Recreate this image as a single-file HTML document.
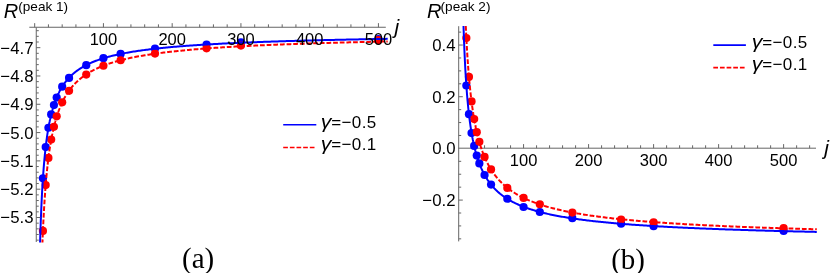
<!DOCTYPE html>
<html><head><meta charset="utf-8"><title>plot</title>
<style>html,body{margin:0;padding:0;background:#fff;}svg{display:block;will-change:transform;font-family:"Liberation Sans",sans-serif;}</style>
</head><body>
<svg width="830" height="273" viewBox="0 0 830 273">
<rect width="830" height="273" fill="#ffffff"/>
<circle cx="42.93" cy="178.35" r="4.1" fill="#0000ff"/><circle cx="45.68" cy="147.05" r="4.1" fill="#0000ff"/><circle cx="48.43" cy="127.76" r="4.1" fill="#0000ff"/><circle cx="51.18" cy="114.40" r="4.1" fill="#0000ff"/><circle cx="53.93" cy="105.05" r="4.1" fill="#0000ff"/><circle cx="56.68" cy="97.58" r="4.1" fill="#0000ff"/><circle cx="62.18" cy="86.71" r="4.1" fill="#0000ff"/><circle cx="69.06" cy="77.88" r="4.1" fill="#0000ff"/><circle cx="86.24" cy="65.19" r="4.1" fill="#0000ff"/><circle cx="103.43" cy="58.18" r="4.1" fill="#0000ff"/><circle cx="120.62" cy="53.93" r="4.1" fill="#0000ff"/><circle cx="154.99" cy="48.56" r="4.1" fill="#0000ff"/><circle cx="206.56" cy="44.48" r="4.1" fill="#0000ff"/><circle cx="240.93" cy="42.45" r="4.1" fill="#0000ff"/><circle cx="378.43" cy="39.20" r="4.1" fill="#0000ff"/><circle cx="42.93" cy="230.97" r="4.1" fill="#ff0000"/><circle cx="45.68" cy="185.07" r="4.1" fill="#ff0000"/><circle cx="48.43" cy="157.97" r="4.1" fill="#ff0000"/><circle cx="51.18" cy="139.61" r="4.1" fill="#ff0000"/><circle cx="53.93" cy="126.83" r="4.1" fill="#ff0000"/><circle cx="56.68" cy="116.35" r="4.1" fill="#ff0000"/><circle cx="62.18" cy="102.28" r="4.1" fill="#ff0000"/><circle cx="69.06" cy="90.83" r="4.1" fill="#ff0000"/><circle cx="86.24" cy="74.57" r="4.1" fill="#ff0000"/><circle cx="103.43" cy="65.75" r="4.1" fill="#ff0000"/><circle cx="120.62" cy="60.23" r="4.1" fill="#ff0000"/><circle cx="154.99" cy="53.56" r="4.1" fill="#ff0000"/><circle cx="206.56" cy="48.36" r="4.1" fill="#ff0000"/><circle cx="240.93" cy="45.60" r="4.1" fill="#ff0000"/><circle cx="378.43" cy="40.20" r="4.1" fill="#ff0000"/><clipPath id="ca"><rect x="30" y="26" width="357.7" height="216.6"/></clipPath><clipPath id="cb"><rect x="455" y="26" width="362" height="216.6"/></clipPath><path clip-path="url(#ca)" d="M38.12,349.55 L38.19,343.06 L38.27,336.87 L38.34,330.95 L38.42,325.29 L38.50,319.87 L38.57,314.68 L38.65,309.69 L38.72,304.90 L38.80,300.29 L38.88,295.86 L38.95,291.59 L39.03,287.48 L39.10,283.51 L39.18,279.68 L39.25,275.98 L39.33,272.40 L39.41,268.95 L39.48,265.60 L39.56,262.36 L39.63,259.22 L39.71,256.18 L39.78,253.23 L39.86,250.36 L39.94,247.58 L40.01,244.88 L40.09,242.25 L40.16,239.70 L40.24,237.22 L40.32,234.80 L40.39,232.45 L40.47,230.16 L40.54,227.93 L40.62,225.75 L40.69,223.63 L40.77,221.56 L40.85,219.54 L40.92,217.57 L41.00,215.65 L41.07,213.77 L41.15,211.94 L41.22,210.14 L41.30,208.39 L41.38,206.67 L41.45,205.00 L41.53,203.36 L41.60,201.75 L41.68,200.18 L41.75,198.64 L41.83,197.14 L41.91,195.66 L41.98,194.21 L42.06,192.79 L42.13,191.41 L42.21,190.04 L42.29,188.71 L42.36,187.40 L42.44,186.11 L42.51,184.85 L42.59,183.61 L42.66,182.39 L42.74,181.20 L42.82,180.03 L42.89,178.87 L42.97,177.74 L43.04,176.63 L43.12,175.54 L43.19,174.46 L43.27,173.41 L43.35,172.37 L43.42,171.35 L43.50,170.35 L43.57,169.36 L43.65,168.39 L43.72,167.43 L43.80,166.49 L43.88,165.56 L43.95,164.65 L44.03,163.75 L44.10,162.87 L44.18,162.00 L44.26,161.14 L44.33,160.29 L44.41,159.46 L44.48,158.64 L44.56,157.83 L44.63,157.04 L44.71,156.25 L44.79,155.48 L44.86,154.71 L44.94,153.96 L45.01,153.22 L45.09,152.49 L45.16,151.76 L45.24,151.05 L45.32,150.35 L45.39,149.66 L45.47,148.97 L45.54,148.30 L45.62,147.63 L45.70,146.97 L45.77,146.32 L45.85,145.68 L45.92,145.05 L46.00,144.43 L46.07,143.81 L46.15,143.20 L46.23,142.60 L46.30,142.00 L46.38,141.42 L46.45,140.84 L46.53,140.26 L46.60,139.70 L46.68,139.14 L46.76,138.58 L46.83,138.04 L46.91,137.50 L46.98,136.96 L47.06,136.44 L47.13,135.91 L47.21,135.40 L47.29,134.89 L47.36,134.38 L47.44,133.88 L47.51,133.39 L47.59,132.90 L47.67,132.42 L47.74,131.94 L47.82,131.47 L47.89,131.00 L47.97,130.54 L48.04,130.08 L48.12,129.63 L48.20,129.18 L48.27,128.74 L48.35,128.30 L48.42,127.87 L48.50,127.44 L48.57,127.01 L48.65,126.59 L48.73,126.17 L48.80,125.76 L48.88,125.35 L48.95,124.95 L49.03,124.55 L49.11,124.15 L49.18,123.76 L49.26,123.37 L49.33,122.98 L49.41,122.60 L49.48,122.22 L49.56,121.85 L49.64,121.48 L49.71,121.11 L49.79,120.74 L49.86,120.38 L49.94,120.03 L50.01,119.67 L50.09,119.32 L50.17,118.97 L50.24,118.63 L50.32,118.29 L50.39,117.95 L50.47,117.61 L50.54,117.28 L50.62,116.95 L50.70,116.62 L50.77,116.30 L50.85,115.98 L50.92,115.66 L51.00,115.34 L51.08,115.03 L51.15,114.72 L51.23,114.41 L51.30,114.11 L51.38,113.81 L51.45,113.51 L51.53,113.21 L51.61,112.91 L51.68,112.62 L51.76,112.33 L51.83,112.04 L51.91,111.76 L51.98,111.47 L52.06,111.19 L52.14,110.91 L52.21,110.64 L52.29,110.36 L52.36,110.09 L52.44,109.82 L52.52,109.55 L52.59,109.29 L52.67,109.02 L52.74,108.76 L52.82,108.50 L52.89,108.25 L52.97,107.99 L53.05,107.74 L53.12,107.48 L53.20,107.23 L53.27,106.99 L53.35,106.74 L53.42,106.50 L53.50,106.25 L53.58,106.01 L53.65,105.77 L53.73,105.54 L53.80,105.30 L53.88,105.07 L53.95,104.83 L54.03,104.60 L54.11,104.37 L54.18,104.15 L54.26,103.92 L54.33,103.70 L54.41,103.47 L54.49,103.25 L54.56,103.03 L54.64,102.82 L54.71,102.60 L54.79,102.39 L54.86,102.17 L54.94,101.96 L55.02,101.75 L55.09,101.54 L55.17,101.33 L55.24,101.13 L55.32,100.92 L55.39,100.72 L55.47,100.52 L55.55,100.32 L55.62,100.12 L55.70,99.92 L55.77,99.72 L55.85,99.53 L55.92,99.33 L56.00,99.14 L56.08,98.95 L56.15,98.76 L56.23,98.57 L56.30,98.38 L56.38,98.19 L56.46,98.01 L56.53,97.82 L56.61,97.64 L56.68,97.46 L56.76,97.28 L56.83,97.10 L56.91,96.92 L56.99,96.74 L57.06,96.56 L57.14,96.39 L57.21,96.21 L57.29,96.04 L57.36,95.87 L57.44,95.70 L57.52,95.53 L57.59,95.36 L57.67,95.19 L57.74,95.02 L57.82,94.85 L57.90,94.69 L57.97,94.53 L58.05,94.36 L58.12,94.20 L58.20,94.04 L58.27,93.88 L58.35,93.72 L58.43,93.56 L58.50,93.40 L58.58,93.25 L58.65,93.09 L58.73,92.94 L58.80,92.78 L58.88,92.63 L58.96,92.48 L59.03,92.32 L59.11,92.17 L59.18,92.02 L59.26,91.88 L59.33,91.73 L59.41,91.58 L59.49,91.43 L59.56,91.29 L59.64,91.14 L59.71,91.00 L59.79,90.86 L59.87,90.71 L59.94,90.57 L60.02,90.43 L60.09,90.29 L60.17,90.15 L60.24,90.01 L60.32,89.88 L60.40,89.74 L60.47,89.60 L60.55,89.47 L60.62,89.33 L60.70,89.20 L60.77,89.07 L60.85,88.93 L60.93,88.80 L61.00,88.67 L61.08,88.54 L61.15,88.41 L61.23,88.28 L61.31,88.15 L61.38,88.02 L61.46,87.90 L61.53,87.77 L61.61,87.64 L61.68,87.52 L61.76,87.39 L61.84,87.27 L61.91,87.14 L61.99,87.02 L62.06,86.90 L62.14,86.78 L62.21,86.66 L62.29,86.54 L62.37,86.42 L62.44,86.30 L62.52,86.18 L62.59,86.06 L62.67,85.94 L62.74,85.83 L62.82,85.71 L62.90,85.59 L62.97,85.48 L63.05,85.36 L63.12,85.25 L63.20,85.14 L63.28,85.02 L63.35,84.91 L63.43,84.80 L63.50,84.69 L63.58,84.58 L63.65,84.47 L63.73,84.36 L63.81,84.25 L63.88,84.14 L63.96,84.03 L64.03,83.92 L64.11,83.82 L64.18,83.71 L64.26,83.60 L64.34,83.50 L64.41,83.39 L64.49,83.29 L64.56,83.18 L64.64,83.08 L64.72,82.98 L64.79,82.87 L64.87,82.77 L64.94,82.67 L65.02,82.57 L65.09,82.47 L65.17,82.37 L65.25,82.27 L65.32,82.17 L65.40,82.07 L65.47,81.97 L65.55,81.87 L65.62,81.77 L65.70,81.67 L65.78,81.58 L65.85,81.48 L65.93,81.38 L66.00,81.29 L66.08,81.19 L66.15,81.10 L66.23,81.00 L66.31,80.91 L66.38,80.82 L66.46,80.72 L66.53,80.63 L66.61,80.54 L66.69,80.44 L66.76,80.35 L66.84,80.26 L66.91,80.17 L66.99,80.08 L67.06,79.99 L67.14,79.90 L67.22,79.81 L67.29,79.72 L67.37,79.63 L67.44,79.54 L67.52,79.46 L67.59,79.37 L67.67,79.28 L67.75,79.20 L67.82,79.11 L67.90,79.02 L67.97,78.94 L68.05,78.85 L68.13,78.77 L68.20,78.68 L68.28,78.60 L68.35,78.51 L68.43,78.43 L68.50,78.35 L68.58,78.26 L68.66,78.18 L68.73,78.10 L68.81,78.02 L68.88,77.94 L68.96,77.85 L69.03,77.77 L69.11,77.69 L69.19,77.61 L69.26,77.53 L69.34,77.45 L69.41,77.37 L69.49,77.29 L69.56,77.21 L69.64,77.14 L69.72,77.06 L69.79,76.98 L69.87,76.90 L69.94,76.83 L70.02,76.75 L70.10,76.67 L70.17,76.60 L70.25,76.52 L70.32,76.44 L70.40,76.37 L70.47,76.29 L70.55,76.22 L70.63,76.14 L70.70,76.07 L70.78,75.99 L70.85,75.92 L70.93,75.85 L71.00,75.77 L71.08,75.70 L71.16,75.63 L71.23,75.56 L71.31,75.48 L71.38,75.41 L71.46,75.34 L71.53,75.27 L71.61,75.20 L71.69,75.13 L71.76,75.06 L71.84,74.99 L71.91,74.92 L71.99,74.85 L72.07,74.78 L72.14,74.71 L72.22,74.64 L72.29,74.57 L72.37,74.50 L72.44,74.43 L72.52,74.36 L72.60,74.30 L72.67,74.23 L72.75,74.16 L72.82,74.10 L72.90,74.03 L72.97,73.96 L73.05,73.90 L73.13,73.83 L73.20,73.76 L73.28,73.70 L73.35,73.63 L73.43,73.57 L73.51,73.50 L73.58,73.44 L73.66,73.37 L73.73,73.31 L73.81,73.24 L73.88,73.18 L73.96,73.12 L74.04,73.05 L74.11,72.99 L74.19,72.93 L74.26,72.87 L74.34,72.80 L74.41,72.74 L74.49,72.68 L74.57,72.62 L74.64,72.55 L74.72,72.49 L74.79,72.43 L74.87,72.37 L74.94,72.31 L75.02,72.25 L75.10,72.19 L75.17,72.13 L75.25,72.07 L75.32,72.01 L75.40,71.95 L75.48,71.89 L75.55,71.83 L75.63,71.77 L75.70,71.71 L75.78,71.65 L75.85,71.60 L75.93,71.54 L77.18,70.60 L78.44,69.71 L79.69,68.87 L80.94,68.07 L82.20,67.31 L83.45,66.58 L84.70,65.88 L85.96,65.22 L87.21,64.58 L88.47,63.97 L89.72,63.39 L90.97,62.83 L92.23,62.29 L93.48,61.77 L94.73,61.27 L95.99,60.79 L97.24,60.33 L98.49,59.88 L99.75,59.45 L101.00,59.03 L102.25,58.63 L103.51,58.24 L104.76,57.86 L106.01,57.50 L107.27,57.14 L108.52,56.80 L109.77,56.47 L111.03,56.14 L112.28,55.83 L113.54,55.52 L114.79,55.23 L116.04,54.94 L117.30,54.66 L118.55,54.39 L119.80,54.12 L121.06,53.86 L122.31,53.61 L123.56,53.36 L124.82,53.12 L126.07,52.89 L127.32,52.66 L128.58,52.44 L129.83,52.22 L131.08,52.01 L132.34,51.80 L133.59,51.60 L134.85,51.40 L136.10,51.21 L137.35,51.02 L138.61,50.83 L139.86,50.65 L141.11,50.47 L142.37,50.30 L143.62,50.13 L144.87,49.96 L146.13,49.80 L147.38,49.64 L148.63,49.48 L149.89,49.33 L151.14,49.17 L152.39,49.03 L153.65,48.88 L154.90,48.74 L156.15,48.60 L157.41,48.46 L158.66,48.32 L159.92,48.19 L161.17,48.06 L162.42,47.93 L163.68,47.81 L164.93,47.68 L166.18,47.56 L167.44,47.44 L168.69,47.33 L169.94,47.21 L171.20,47.10 L172.45,46.98 L173.70,46.87 L174.96,46.77 L176.21,46.66 L177.46,46.55 L178.72,46.45 L179.97,46.35 L181.23,46.25 L182.48,46.15 L183.73,46.05 L184.99,45.96 L186.24,45.86 L187.49,45.77 L188.75,45.68 L190.00,45.59 L191.25,45.50 L192.51,45.41 L193.76,45.32 L195.01,45.24 L196.27,45.15 L197.52,45.07 L198.77,44.99 L200.03,44.91 L201.28,44.83 L202.53,44.75 L203.79,44.67 L205.04,44.60 L206.30,44.52 L207.55,44.45 L208.80,44.37 L210.06,44.30 L211.31,44.23 L212.56,44.16 L213.82,44.09 L215.07,44.02 L216.32,43.95 L217.58,43.88 L218.83,43.82 L220.08,43.75 L221.34,43.69 L222.59,43.62 L223.84,43.56 L225.10,43.50 L226.35,43.43 L227.61,43.37 L228.86,43.31 L230.11,43.25 L231.37,43.19 L232.62,43.13 L233.87,43.08 L235.13,43.02 L236.38,42.96 L237.63,42.91 L238.89,42.85 L240.14,42.80 L241.39,42.74 L242.65,42.69 L243.90,42.63 L245.15,42.58 L246.41,42.53 L247.66,42.48 L248.91,42.43 L250.17,42.38 L251.42,42.33 L252.68,42.28 L253.93,42.23 L255.18,42.18 L256.44,42.13 L257.69,42.09 L258.94,42.04 L260.20,41.99 L261.45,41.95 L262.70,41.90 L263.96,41.86 L265.21,41.81 L266.46,41.77 L267.72,41.72 L268.97,41.68 L270.22,41.64 L271.48,41.60 L272.73,41.55 L273.99,41.51 L275.24,41.47 L276.49,41.43 L277.75,41.39 L279.00,41.35 L280.25,41.31 L281.51,41.27 L282.76,41.23 L284.01,41.19 L285.27,41.15 L286.52,41.12 L287.77,41.08 L289.03,41.04 L290.28,41.00 L291.53,40.97 L292.79,40.93 L294.04,40.89 L295.29,40.86 L296.55,40.82 L297.80,40.79 L299.06,40.75 L300.31,40.72 L301.56,40.68 L302.82,40.65 L304.07,40.62 L305.32,40.58 L306.58,40.55 L307.83,40.52 L309.08,40.48 L310.34,40.45 L311.59,40.42 L312.84,40.39 L314.10,40.35 L315.35,40.32 L316.60,40.29 L317.86,40.26 L319.11,40.23 L320.37,40.20 L321.62,40.17 L322.87,40.14 L324.13,40.11 L325.38,40.08 L326.63,40.05 L327.89,40.02 L329.14,39.99 L330.39,39.96 L331.65,39.94 L332.90,39.91 L334.15,39.88 L335.41,39.85 L336.66,39.82 L337.91,39.80 L339.17,39.77 L340.42,39.74 L341.67,39.72 L342.93,39.69 L344.18,39.66 L345.44,39.64 L346.69,39.61 L347.94,39.59 L349.20,39.56 L350.45,39.53 L351.70,39.51 L352.96,39.48 L354.21,39.46 L355.46,39.43 L356.72,39.41 L357.97,39.39 L359.22,39.36 L360.48,39.34 L361.73,39.31 L362.98,39.29 L364.24,39.27 L365.49,39.24 L366.75,39.22 L368.00,39.20 L369.25,39.17 L370.51,39.15 L371.76,39.13 L373.01,39.11 L374.27,39.08 L375.52,39.06 L376.77,39.04 L378.03,39.02 L379.28,39.00 L380.53,38.97 L381.79,38.95 L383.04,38.93 L384.29,38.91 L385.55,38.89 L386.80,38.87 L388.06,38.85" fill="none" stroke="#0000ff" stroke-width="2.0"/><path clip-path="url(#ca)" d="M38.34,496.82 L38.42,485.39 L38.50,474.57 L38.57,464.33 L38.65,454.61 L38.72,445.37 L38.80,436.58 L38.88,428.20 L38.95,420.21 L39.03,412.58 L39.10,405.28 L39.18,398.29 L39.25,391.59 L39.33,385.17 L39.41,379.00 L39.48,373.07 L39.56,367.37 L39.63,361.87 L39.71,356.58 L39.78,351.48 L39.86,346.56 L39.94,341.81 L40.01,337.21 L40.09,332.77 L40.16,328.48 L40.24,324.32 L40.32,320.29 L40.39,316.39 L40.47,312.60 L40.54,308.93 L40.62,305.36 L40.69,301.90 L40.77,298.54 L40.85,295.27 L40.92,292.09 L41.00,288.99 L41.07,285.98 L41.15,283.05 L41.22,280.19 L41.30,277.41 L41.38,274.70 L41.45,272.05 L41.53,269.47 L41.60,266.95 L41.68,264.49 L41.75,262.09 L41.83,259.75 L41.91,257.46 L41.98,255.22 L42.06,253.03 L42.13,250.89 L42.21,248.79 L42.29,246.74 L42.36,244.74 L42.44,242.77 L42.51,240.85 L42.59,238.97 L42.66,237.12 L42.74,235.32 L42.82,233.54 L42.89,231.81 L42.97,230.10 L43.04,228.43 L43.12,226.79 L43.19,225.19 L43.27,223.61 L43.35,222.06 L43.42,220.54 L43.50,219.04 L43.57,217.58 L43.65,216.14 L43.72,214.72 L43.80,213.33 L43.88,211.96 L43.95,210.62 L44.03,209.30 L44.10,208.00 L44.18,206.72 L44.26,205.47 L44.33,204.23 L44.41,203.01 L44.48,201.82 L44.56,200.64 L44.63,199.48 L44.71,198.34 L44.79,197.21 L44.86,196.11 L44.94,195.02 L45.01,193.94 L45.09,192.88 L45.16,191.84 L45.24,190.82 L45.32,189.80 L45.39,188.81 L45.47,187.82 L45.54,186.85 L45.62,185.90 L45.70,184.96 L45.77,184.03 L45.85,183.11 L45.92,182.21 L46.00,181.32 L46.07,180.44 L46.15,179.57 L46.23,178.71 L46.30,177.87 L46.38,177.03 L46.45,176.21 L46.53,175.40 L46.60,174.59 L46.68,173.80 L46.76,173.02 L46.83,172.25 L46.91,171.49 L46.98,170.73 L47.06,169.99 L47.13,169.25 L47.21,168.53 L47.29,167.81 L47.36,167.10 L47.44,166.40 L47.51,165.71 L47.59,165.02 L47.67,164.35 L47.74,163.68 L47.82,163.02 L47.89,162.36 L47.97,161.72 L48.04,161.08 L48.12,160.45 L48.20,159.82 L48.27,159.20 L48.35,158.59 L48.42,157.99 L48.50,157.39 L48.57,156.80 L48.65,156.21 L48.73,155.63 L48.80,155.06 L48.88,154.49 L48.95,153.93 L49.03,153.38 L49.11,152.83 L49.18,152.29 L49.26,151.75 L49.33,151.22 L49.41,150.69 L49.48,150.17 L49.56,149.65 L49.64,149.14 L49.71,148.63 L49.79,148.13 L49.86,147.63 L49.94,147.14 L50.01,146.65 L50.09,146.17 L50.17,145.69 L50.24,145.22 L50.32,144.75 L50.39,144.29 L50.47,143.83 L50.54,143.37 L50.62,142.92 L50.70,142.47 L50.77,142.03 L50.85,141.59 L50.92,141.15 L51.00,140.72 L51.08,140.30 L51.15,139.87 L51.23,139.45 L51.30,139.04 L51.38,138.62 L51.45,138.21 L51.53,137.81 L51.61,137.41 L51.68,137.01 L51.76,136.61 L51.83,136.22 L51.91,135.83 L51.98,135.45 L52.06,135.07 L52.14,134.69 L52.21,134.31 L52.29,133.94 L52.36,133.57 L52.44,133.21 L52.52,132.84 L52.59,132.48 L52.67,132.13 L52.74,131.77 L52.82,131.42 L52.89,131.07 L52.97,130.72 L53.05,130.38 L53.12,130.04 L53.20,129.70 L53.27,129.37 L53.35,129.04 L53.42,128.71 L53.50,128.38 L53.58,128.05 L53.65,127.73 L53.73,127.41 L53.80,127.09 L53.88,126.78 L53.95,126.47 L54.03,126.16 L54.11,125.85 L54.18,125.54 L54.26,125.24 L54.33,124.94 L54.41,124.64 L54.49,124.34 L54.56,124.05 L54.64,123.75 L54.71,123.46 L54.79,123.17 L54.86,122.89 L54.94,122.60 L55.02,122.32 L55.09,122.04 L55.17,121.76 L55.24,121.49 L55.32,121.21 L55.39,120.94 L55.47,120.67 L55.55,120.40 L55.62,120.13 L55.70,119.87 L55.77,119.61 L55.85,119.34 L55.92,119.09 L56.00,118.83 L56.08,118.57 L56.15,118.32 L56.23,118.06 L56.30,117.81 L56.38,117.56 L56.46,117.32 L56.53,117.07 L56.61,116.83 L56.68,116.58 L56.76,116.34 L56.83,116.10 L56.91,115.86 L56.99,115.63 L57.06,115.39 L57.14,115.16 L57.21,114.93 L57.29,114.70 L57.36,114.47 L57.44,114.24 L57.52,114.01 L57.59,113.79 L57.67,113.56 L57.74,113.34 L57.82,113.12 L57.90,112.90 L57.97,112.68 L58.05,112.47 L58.12,112.25 L58.20,112.04 L58.27,111.83 L58.35,111.61 L58.43,111.40 L58.50,111.20 L58.58,110.99 L58.65,110.78 L58.73,110.58 L58.80,110.37 L58.88,110.17 L58.96,109.97 L59.03,109.77 L59.11,109.57 L59.18,109.37 L59.26,109.17 L59.33,108.98 L59.41,108.78 L59.49,108.59 L59.56,108.40 L59.64,108.21 L59.71,108.02 L59.79,107.83 L59.87,107.64 L59.94,107.45 L60.02,107.27 L60.09,107.08 L60.17,106.90 L60.24,106.71 L60.32,106.53 L60.40,106.35 L60.47,106.17 L60.55,105.99 L60.62,105.82 L60.70,105.64 L60.77,105.46 L60.85,105.29 L60.93,105.11 L61.00,104.94 L61.08,104.77 L61.15,104.60 L61.23,104.43 L61.31,104.26 L61.38,104.09 L61.46,103.92 L61.53,103.76 L61.61,103.59 L61.68,103.42 L61.76,103.26 L61.84,103.10 L61.91,102.93 L61.99,102.77 L62.06,102.61 L62.14,102.45 L62.21,102.29 L62.29,102.14 L62.37,101.98 L62.44,101.82 L62.52,101.67 L62.59,101.51 L62.67,101.36 L62.74,101.20 L62.82,101.05 L62.90,100.90 L62.97,100.75 L63.05,100.60 L63.12,100.45 L63.20,100.30 L63.28,100.15 L63.35,100.00 L63.43,99.86 L63.50,99.71 L63.58,99.57 L63.65,99.42 L63.73,99.28 L63.81,99.13 L63.88,98.99 L63.96,98.85 L64.03,98.71 L64.11,98.57 L64.18,98.43 L64.26,98.29 L64.34,98.15 L64.41,98.01 L64.49,97.88 L64.56,97.74 L64.64,97.61 L64.72,97.47 L64.79,97.34 L64.87,97.20 L64.94,97.07 L65.02,96.94 L65.09,96.80 L65.17,96.67 L65.25,96.54 L65.32,96.41 L65.40,96.28 L65.47,96.15 L65.55,96.03 L65.62,95.90 L65.70,95.77 L65.78,95.64 L65.85,95.52 L65.93,95.39 L66.00,95.27 L66.08,95.14 L66.15,95.02 L66.23,94.90 L66.31,94.77 L66.38,94.65 L66.46,94.53 L66.53,94.41 L66.61,94.29 L66.69,94.17 L66.76,94.05 L66.84,93.93 L66.91,93.81 L66.99,93.69 L67.06,93.58 L67.14,93.46 L67.22,93.34 L67.29,93.23 L67.37,93.11 L67.44,93.00 L67.52,92.88 L67.59,92.77 L67.67,92.65 L67.75,92.54 L67.82,92.43 L67.90,92.32 L67.97,92.21 L68.05,92.10 L68.13,91.98 L68.20,91.87 L68.28,91.76 L68.35,91.66 L68.43,91.55 L68.50,91.44 L68.58,91.33 L68.66,91.22 L68.73,91.12 L68.81,91.01 L68.88,90.90 L68.96,90.80 L69.03,90.69 L69.11,90.59 L69.19,90.48 L69.26,90.38 L69.34,90.28 L69.41,90.17 L69.49,90.07 L69.56,89.97 L69.64,89.87 L69.72,89.77 L69.79,89.66 L69.87,89.56 L69.94,89.46 L70.02,89.36 L70.10,89.26 L70.17,89.17 L70.25,89.07 L70.32,88.97 L70.40,88.87 L70.47,88.77 L70.55,88.68 L70.63,88.58 L70.70,88.48 L70.78,88.39 L70.85,88.29 L70.93,88.20 L71.00,88.10 L71.08,88.01 L71.16,87.91 L71.23,87.82 L71.31,87.73 L71.38,87.63 L71.46,87.54 L71.53,87.45 L71.61,87.36 L71.69,87.26 L71.76,87.17 L71.84,87.08 L71.91,86.99 L71.99,86.90 L72.07,86.81 L72.14,86.72 L72.22,86.63 L72.29,86.54 L72.37,86.46 L72.44,86.37 L72.52,86.28 L72.60,86.19 L72.67,86.10 L72.75,86.02 L72.82,85.93 L72.90,85.84 L72.97,85.76 L73.05,85.67 L73.13,85.59 L73.20,85.50 L73.28,85.42 L73.35,85.33 L73.43,85.25 L73.51,85.17 L73.58,85.08 L73.66,85.00 L73.73,84.92 L73.81,84.83 L73.88,84.75 L73.96,84.67 L74.04,84.59 L74.11,84.51 L74.19,84.42 L74.26,84.34 L74.34,84.26 L74.41,84.18 L74.49,84.10 L74.57,84.02 L74.64,83.94 L74.72,83.86 L74.79,83.79 L74.87,83.71 L74.94,83.63 L75.02,83.55 L75.10,83.47 L75.17,83.39 L75.25,83.32 L75.32,83.24 L75.40,83.16 L75.48,83.09 L75.55,83.01 L75.63,82.93 L75.70,82.86 L75.78,82.78 L75.85,82.71 L75.93,82.63 L77.18,81.43 L78.44,80.29 L79.69,79.21 L80.94,78.18 L82.20,77.20 L83.45,76.27 L84.70,75.38 L85.96,74.53 L87.21,73.72 L88.47,72.94 L89.72,72.20 L90.97,71.48 L92.23,70.80 L93.48,70.14 L94.73,69.51 L95.99,68.90 L97.24,68.31 L98.49,67.74 L99.75,67.19 L101.00,66.67 L102.25,66.16 L103.51,65.66 L104.76,65.19 L106.01,64.72 L107.27,64.28 L108.52,63.84 L109.77,63.42 L111.03,63.02 L112.28,62.62 L113.54,62.24 L114.79,61.86 L116.04,61.50 L117.30,61.15 L118.55,60.80 L119.80,60.47 L121.06,60.14 L122.31,59.83 L123.56,59.52 L124.82,59.22 L126.07,58.92 L127.32,58.64 L128.58,58.36 L129.83,58.09 L131.08,57.82 L132.34,57.56 L133.59,57.30 L134.85,57.06 L136.10,56.81 L137.35,56.58 L138.61,56.34 L139.86,56.12 L141.11,55.89 L142.37,55.68 L143.62,55.46 L144.87,55.25 L146.13,55.05 L147.38,54.85 L148.63,54.65 L149.89,54.46 L151.14,54.27 L152.39,54.09 L153.65,53.91 L154.90,53.73 L156.15,53.55 L157.41,53.38 L158.66,53.21 L159.92,53.05 L161.17,52.88 L162.42,52.72 L163.68,52.57 L164.93,52.41 L166.18,52.26 L167.44,52.11 L168.69,51.97 L169.94,51.82 L171.20,51.68 L172.45,51.54 L173.70,51.40 L174.96,51.27 L176.21,51.14 L177.46,51.01 L178.72,50.88 L179.97,50.75 L181.23,50.63 L182.48,50.50 L183.73,50.38 L184.99,50.26 L186.24,50.15 L187.49,50.03 L188.75,49.92 L190.00,49.81 L191.25,49.70 L192.51,49.59 L193.76,49.48 L195.01,49.37 L196.27,49.27 L197.52,49.17 L198.77,49.06 L200.03,48.96 L201.28,48.87 L202.53,48.77 L203.79,48.67 L205.04,48.58 L206.30,48.48 L207.55,48.39 L208.80,48.30 L210.06,48.21 L211.31,48.12 L212.56,48.03 L213.82,47.95 L215.07,47.86 L216.32,47.78 L217.58,47.69 L218.83,47.61 L220.08,47.53 L221.34,47.45 L222.59,47.37 L223.84,47.29 L225.10,47.21 L226.35,47.14 L227.61,47.06 L228.86,46.99 L230.11,46.91 L231.37,46.84 L232.62,46.77 L233.87,46.69 L235.13,46.62 L236.38,46.55 L237.63,46.48 L238.89,46.42 L240.14,46.35 L241.39,46.28 L242.65,46.22 L243.90,46.15 L245.15,46.09 L246.41,46.02 L247.66,45.96 L248.91,45.89 L250.17,45.83 L251.42,45.77 L252.68,45.71 L253.93,45.65 L255.18,45.59 L256.44,45.53 L257.69,45.47 L258.94,45.42 L260.20,45.36 L261.45,45.30 L262.70,45.25 L263.96,45.19 L265.21,45.14 L266.46,45.08 L267.72,45.03 L268.97,44.97 L270.22,44.92 L271.48,44.87 L272.73,44.82 L273.99,44.76 L275.24,44.71 L276.49,44.66 L277.75,44.61 L279.00,44.56 L280.25,44.51 L281.51,44.47 L282.76,44.42 L284.01,44.37 L285.27,44.32 L286.52,44.28 L287.77,44.23 L289.03,44.18 L290.28,44.14 L291.53,44.09 L292.79,44.05 L294.04,44.00 L295.29,43.96 L296.55,43.92 L297.80,43.87 L299.06,43.83 L300.31,43.79 L301.56,43.74 L302.82,43.70 L304.07,43.66 L305.32,43.62 L306.58,43.58 L307.83,43.54 L309.08,43.50 L310.34,43.46 L311.59,43.42 L312.84,43.38 L314.10,43.34 L315.35,43.30 L316.60,43.26 L317.86,43.23 L319.11,43.19 L320.37,43.15 L321.62,43.11 L322.87,43.08 L324.13,43.04 L325.38,43.00 L326.63,42.97 L327.89,42.93 L329.14,42.90 L330.39,42.86 L331.65,42.83 L332.90,42.79 L334.15,42.76 L335.41,42.72 L336.66,42.69 L337.91,42.66 L339.17,42.62 L340.42,42.59 L341.67,42.56 L342.93,42.52 L344.18,42.49 L345.44,42.46 L346.69,42.43 L347.94,42.40 L349.20,42.36 L350.45,42.33 L351.70,42.30 L352.96,42.27 L354.21,42.24 L355.46,42.21 L356.72,42.18 L357.97,42.15 L359.22,42.12 L360.48,42.09 L361.73,42.06 L362.98,42.03 L364.24,42.00 L365.49,41.97 L366.75,41.95 L368.00,41.92 L369.25,41.89 L370.51,41.86 L371.76,41.83 L373.01,41.81 L374.27,41.78 L375.52,41.75 L376.77,41.72 L378.03,41.70 L379.28,41.67 L380.53,41.64 L381.79,41.62 L383.04,41.59 L384.29,41.57 L385.55,41.54 L386.80,41.51 L388.06,41.49" fill="none" stroke="#ff0000" stroke-width="2.0" stroke-dasharray="4.75 1.9"/><g stroke="#666666" stroke-width="1"><line x1="29.3" y1="27.25" x2="385.8" y2="27.25"/><line x1="34.68" y1="27.25" x2="34.68" y2="23.15"/><line x1="48.43" y1="27.25" x2="48.43" y2="24.35"/><line x1="62.18" y1="27.25" x2="62.18" y2="24.35"/><line x1="75.93" y1="27.25" x2="75.93" y2="24.35"/><line x1="89.68" y1="27.25" x2="89.68" y2="24.35"/><line x1="103.43" y1="27.25" x2="103.43" y2="23.15"/><line x1="117.18" y1="27.25" x2="117.18" y2="24.35"/><line x1="130.93" y1="27.25" x2="130.93" y2="24.35"/><line x1="144.68" y1="27.25" x2="144.68" y2="24.35"/><line x1="158.43" y1="27.25" x2="158.43" y2="24.35"/><line x1="172.18" y1="27.25" x2="172.18" y2="23.15"/><line x1="185.93" y1="27.25" x2="185.93" y2="24.35"/><line x1="199.68" y1="27.25" x2="199.68" y2="24.35"/><line x1="213.43" y1="27.25" x2="213.43" y2="24.35"/><line x1="227.18" y1="27.25" x2="227.18" y2="24.35"/><line x1="240.93" y1="27.25" x2="240.93" y2="23.15"/><line x1="254.68" y1="27.25" x2="254.68" y2="24.35"/><line x1="268.43" y1="27.25" x2="268.43" y2="24.35"/><line x1="282.18" y1="27.25" x2="282.18" y2="24.35"/><line x1="295.93" y1="27.25" x2="295.93" y2="24.35"/><line x1="309.68" y1="27.25" x2="309.68" y2="23.15"/><line x1="323.43" y1="27.25" x2="323.43" y2="24.35"/><line x1="337.18" y1="27.25" x2="337.18" y2="24.35"/><line x1="350.93" y1="27.25" x2="350.93" y2="24.35"/><line x1="364.68" y1="27.25" x2="364.68" y2="24.35"/><line x1="378.43" y1="27.25" x2="378.43" y2="23.15"/><line x1="36.25" y1="27.5" x2="36.25" y2="242"/><line x1="36.25" y1="30.68" x2="38.75" y2="30.68"/><line x1="36.25" y1="36.34" x2="38.75" y2="36.34"/><line x1="36.25" y1="42.00" x2="38.75" y2="42.00"/><line x1="36.25" y1="47.66" x2="40.35" y2="47.66"/><line x1="36.25" y1="53.32" x2="38.75" y2="53.32"/><line x1="36.25" y1="58.98" x2="38.75" y2="58.98"/><line x1="36.25" y1="64.64" x2="38.75" y2="64.64"/><line x1="36.25" y1="70.31" x2="38.75" y2="70.31"/><line x1="36.25" y1="75.97" x2="40.35" y2="75.97"/><line x1="36.25" y1="81.63" x2="38.75" y2="81.63"/><line x1="36.25" y1="87.29" x2="38.75" y2="87.29"/><line x1="36.25" y1="92.95" x2="38.75" y2="92.95"/><line x1="36.25" y1="98.61" x2="38.75" y2="98.61"/><line x1="36.25" y1="104.28" x2="40.35" y2="104.28"/><line x1="36.25" y1="109.94" x2="38.75" y2="109.94"/><line x1="36.25" y1="115.60" x2="38.75" y2="115.60"/><line x1="36.25" y1="121.26" x2="38.75" y2="121.26"/><line x1="36.25" y1="126.92" x2="38.75" y2="126.92"/><line x1="36.25" y1="132.58" x2="40.35" y2="132.58"/><line x1="36.25" y1="138.25" x2="38.75" y2="138.25"/><line x1="36.25" y1="143.91" x2="38.75" y2="143.91"/><line x1="36.25" y1="149.57" x2="38.75" y2="149.57"/><line x1="36.25" y1="155.23" x2="38.75" y2="155.23"/><line x1="36.25" y1="160.89" x2="40.35" y2="160.89"/><line x1="36.25" y1="166.55" x2="38.75" y2="166.55"/><line x1="36.25" y1="172.22" x2="38.75" y2="172.22"/><line x1="36.25" y1="177.88" x2="38.75" y2="177.88"/><line x1="36.25" y1="183.54" x2="38.75" y2="183.54"/><line x1="36.25" y1="189.20" x2="40.35" y2="189.20"/><line x1="36.25" y1="194.86" x2="38.75" y2="194.86"/><line x1="36.25" y1="200.52" x2="38.75" y2="200.52"/><line x1="36.25" y1="206.18" x2="38.75" y2="206.18"/><line x1="36.25" y1="211.85" x2="38.75" y2="211.85"/><line x1="36.25" y1="217.51" x2="40.35" y2="217.51"/><line x1="36.25" y1="223.17" x2="38.75" y2="223.17"/><line x1="36.25" y1="228.83" x2="38.75" y2="228.83"/><line x1="36.25" y1="234.49" x2="38.75" y2="234.49"/><line x1="36.25" y1="240.15" x2="38.75" y2="240.15"/><line x1="458.4" y1="148.2" x2="816" y2="148.2"/><line x1="471.55" y1="148.2" x2="471.55" y2="145.29999999999998"/><line x1="484.56" y1="148.2" x2="484.56" y2="145.29999999999998"/><line x1="497.56" y1="148.2" x2="497.56" y2="145.29999999999998"/><line x1="510.56" y1="148.2" x2="510.56" y2="145.29999999999998"/><line x1="523.57" y1="148.2" x2="523.57" y2="144.1"/><line x1="536.57" y1="148.2" x2="536.57" y2="145.29999999999998"/><line x1="549.57" y1="148.2" x2="549.57" y2="145.29999999999998"/><line x1="562.57" y1="148.2" x2="562.57" y2="145.29999999999998"/><line x1="575.58" y1="148.2" x2="575.58" y2="145.29999999999998"/><line x1="588.58" y1="148.2" x2="588.58" y2="144.1"/><line x1="601.58" y1="148.2" x2="601.58" y2="145.29999999999998"/><line x1="614.59" y1="148.2" x2="614.59" y2="145.29999999999998"/><line x1="627.59" y1="148.2" x2="627.59" y2="145.29999999999998"/><line x1="640.59" y1="148.2" x2="640.59" y2="145.29999999999998"/><line x1="653.60" y1="148.2" x2="653.60" y2="144.1"/><line x1="666.60" y1="148.2" x2="666.60" y2="145.29999999999998"/><line x1="679.60" y1="148.2" x2="679.60" y2="145.29999999999998"/><line x1="692.60" y1="148.2" x2="692.60" y2="145.29999999999998"/><line x1="705.61" y1="148.2" x2="705.61" y2="145.29999999999998"/><line x1="718.61" y1="148.2" x2="718.61" y2="144.1"/><line x1="731.61" y1="148.2" x2="731.61" y2="145.29999999999998"/><line x1="744.62" y1="148.2" x2="744.62" y2="145.29999999999998"/><line x1="757.62" y1="148.2" x2="757.62" y2="145.29999999999998"/><line x1="770.62" y1="148.2" x2="770.62" y2="145.29999999999998"/><line x1="783.62" y1="148.2" x2="783.62" y2="144.1"/><line x1="796.63" y1="148.2" x2="796.63" y2="145.29999999999998"/><line x1="809.63" y1="148.2" x2="809.63" y2="145.29999999999998"/><line x1="458.7" y1="26.2" x2="458.7" y2="241.4"/><line x1="458.7" y1="238.84" x2="461.2" y2="238.84"/><line x1="458.7" y1="225.92" x2="461.2" y2="225.92"/><line x1="458.7" y1="213.00" x2="461.2" y2="213.00"/><line x1="458.7" y1="200.08" x2="462.8" y2="200.08"/><line x1="458.7" y1="187.16" x2="461.2" y2="187.16"/><line x1="458.7" y1="174.24" x2="461.2" y2="174.24"/><line x1="458.7" y1="161.32" x2="461.2" y2="161.32"/><line x1="458.7" y1="135.48" x2="461.2" y2="135.48"/><line x1="458.7" y1="122.56" x2="461.2" y2="122.56"/><line x1="458.7" y1="109.64" x2="461.2" y2="109.64"/><line x1="458.7" y1="96.72" x2="462.8" y2="96.72"/><line x1="458.7" y1="83.80" x2="461.2" y2="83.80"/><line x1="458.7" y1="70.88" x2="461.2" y2="70.88"/><line x1="458.7" y1="57.96" x2="461.2" y2="57.96"/><line x1="458.7" y1="45.04" x2="462.8" y2="45.04"/><line x1="458.7" y1="32.12" x2="461.2" y2="32.12"/></g><circle cx="466.35" cy="85.50" r="4.1" fill="#0000ff"/><circle cx="468.95" cy="114.19" r="4.1" fill="#0000ff"/><circle cx="471.55" cy="133.06" r="4.1" fill="#0000ff"/><circle cx="474.15" cy="145.97" r="4.1" fill="#0000ff"/><circle cx="476.75" cy="155.59" r="4.1" fill="#0000ff"/><circle cx="479.35" cy="163.39" r="4.1" fill="#0000ff"/><circle cx="484.56" cy="174.98" r="4.1" fill="#0000ff"/><circle cx="491.06" cy="184.55" r="4.1" fill="#0000ff"/><circle cx="507.31" cy="198.77" r="4.1" fill="#0000ff"/><circle cx="523.57" cy="207.00" r="4.1" fill="#0000ff"/><circle cx="539.82" cy="211.98" r="4.1" fill="#0000ff"/><circle cx="572.33" cy="218.20" r="4.1" fill="#0000ff"/><circle cx="621.09" cy="223.74" r="4.1" fill="#0000ff"/><circle cx="653.60" cy="226.13" r="4.1" fill="#0000ff"/><circle cx="783.62" cy="230.96" r="4.1" fill="#0000ff"/><circle cx="466.35" cy="38.01" r="4.1" fill="#ff0000"/><circle cx="468.95" cy="76.91" r="4.1" fill="#ff0000"/><circle cx="471.55" cy="101.39" r="4.1" fill="#ff0000"/><circle cx="474.15" cy="119.03" r="4.1" fill="#ff0000"/><circle cx="476.75" cy="132.17" r="4.1" fill="#ff0000"/><circle cx="479.35" cy="141.82" r="4.1" fill="#ff0000"/><circle cx="484.56" cy="156.93" r="4.1" fill="#ff0000"/><circle cx="491.06" cy="169.44" r="4.1" fill="#ff0000"/><circle cx="507.31" cy="187.90" r="4.1" fill="#ff0000"/><circle cx="523.57" cy="197.91" r="4.1" fill="#ff0000"/><circle cx="539.82" cy="204.23" r="4.1" fill="#ff0000"/><circle cx="572.33" cy="212.53" r="4.1" fill="#ff0000"/><circle cx="621.09" cy="219.48" r="4.1" fill="#ff0000"/><circle cx="653.60" cy="222.29" r="4.1" fill="#ff0000"/><circle cx="783.62" cy="228.21" r="4.1" fill="#ff0000"/><path clip-path="url(#cb)" d="M461.80,-51.79 L461.87,-47.11 L461.94,-42.62 L462.02,-38.30 L462.09,-34.13 L462.16,-30.11 L462.23,-26.23 L462.30,-22.48 L462.37,-18.86 L462.45,-15.36 L462.52,-11.98 L462.59,-8.70 L462.66,-5.52 L462.73,-2.44 L462.80,0.55 L462.88,3.45 L462.95,6.27 L463.02,9.01 L463.09,11.67 L463.16,14.25 L463.23,16.77 L463.31,19.22 L463.38,21.61 L463.45,23.93 L463.52,26.19 L463.59,28.40 L463.66,30.55 L463.74,32.66 L463.81,34.71 L463.88,36.71 L463.95,38.66 L464.02,40.57 L464.09,42.44 L464.17,44.26 L464.24,46.05 L464.31,47.79 L464.38,49.50 L464.45,51.17 L464.52,52.81 L464.60,54.41 L464.67,55.98 L464.74,57.52 L464.81,59.03 L464.88,60.51 L464.95,61.95 L465.03,63.38 L465.10,64.77 L465.17,66.14 L465.24,67.48 L465.31,68.79 L465.38,70.09 L465.46,71.36 L465.53,72.60 L465.60,73.83 L465.67,75.03 L465.74,76.21 L465.81,77.38 L465.89,78.52 L465.96,79.64 L466.03,80.75 L466.10,81.83 L466.17,82.90 L466.24,83.95 L466.32,84.99 L466.39,86.01 L466.46,87.01 L466.53,87.99 L466.60,88.97 L466.67,89.92 L466.75,90.86 L466.82,91.79 L466.89,92.71 L466.96,93.61 L467.03,94.49 L467.10,95.37 L467.18,96.23 L467.25,97.08 L467.32,97.92 L467.39,98.74 L467.46,99.56 L467.53,100.36 L467.61,101.15 L467.68,101.94 L467.75,102.71 L467.82,103.47 L467.89,104.22 L467.96,104.96 L468.04,105.69 L468.11,106.41 L468.18,107.12 L468.25,107.83 L468.32,108.52 L468.39,109.21 L468.47,109.88 L468.54,110.55 L468.61,111.21 L468.68,111.87 L468.75,112.51 L468.82,113.15 L468.90,113.78 L468.97,114.40 L469.04,115.01 L469.11,115.62 L469.18,116.22 L469.25,116.82 L469.33,117.40 L469.40,117.98 L469.47,118.56 L469.54,119.12 L469.61,119.68 L469.68,120.24 L469.75,120.79 L469.83,121.33 L469.90,121.87 L469.97,122.40 L470.04,122.92 L470.11,123.44 L470.18,123.95 L470.26,124.46 L470.33,124.97 L470.40,125.46 L470.47,125.96 L470.54,126.45 L470.61,126.93 L470.69,127.41 L470.76,127.88 L470.83,128.35 L470.90,128.81 L470.97,129.27 L471.04,129.73 L471.12,130.18 L471.19,130.62 L471.26,131.06 L471.33,131.50 L471.40,131.93 L471.47,132.36 L471.55,132.79 L471.62,133.21 L471.69,133.63 L471.76,134.04 L471.83,134.45 L471.90,134.85 L471.98,135.26 L472.05,135.65 L472.12,136.05 L472.19,136.44 L472.26,136.83 L472.33,137.21 L472.41,137.59 L472.48,137.97 L472.55,138.34 L472.62,138.72 L472.69,139.08 L472.76,139.45 L472.84,139.81 L472.91,140.17 L472.98,140.52 L473.05,140.87 L473.12,141.22 L473.19,141.57 L473.27,141.91 L473.34,142.25 L473.41,142.59 L473.48,142.93 L473.55,143.26 L473.62,143.59 L473.70,143.92 L473.77,144.24 L473.84,144.56 L473.91,144.88 L473.98,145.20 L474.05,145.51 L474.13,145.82 L474.20,146.13 L474.27,146.44 L474.34,146.74 L474.41,147.04 L474.48,147.34 L474.56,147.64 L474.63,147.94 L474.70,148.23 L474.77,148.52 L474.84,148.81 L474.91,149.10 L474.99,149.38 L475.06,149.66 L475.13,149.94 L475.20,150.22 L475.27,150.50 L475.34,150.77 L475.42,151.04 L475.49,151.31 L475.56,151.58 L475.63,151.85 L475.70,152.11 L475.77,152.37 L475.85,152.63 L475.92,152.89 L475.99,153.15 L476.06,153.40 L476.13,153.66 L476.20,153.91 L476.28,154.16 L476.35,154.41 L476.42,154.65 L476.49,154.90 L476.56,155.14 L476.63,155.38 L476.71,155.62 L476.78,155.86 L476.85,156.10 L476.92,156.33 L476.99,156.57 L477.06,156.80 L477.14,157.03 L477.21,157.26 L477.28,157.49 L477.35,157.71 L477.42,157.94 L477.49,158.16 L477.57,158.38 L477.64,158.60 L477.71,158.82 L477.78,159.04 L477.85,159.25 L477.92,159.47 L478.00,159.68 L478.07,159.89 L478.14,160.10 L478.21,160.31 L478.28,160.52 L478.35,160.73 L478.43,160.93 L478.50,161.14 L478.57,161.34 L478.64,161.54 L478.71,161.74 L478.78,161.94 L478.86,162.14 L478.93,162.34 L479.00,162.53 L479.07,162.73 L479.14,162.92 L479.21,163.11 L479.29,163.30 L479.36,163.49 L479.43,163.68 L479.50,163.87 L479.57,164.06 L479.64,164.24 L479.72,164.43 L479.79,164.61 L479.86,164.79 L479.93,164.98 L480.00,165.16 L480.07,165.34 L480.15,165.51 L480.22,165.69 L480.29,165.87 L480.36,166.04 L480.43,166.22 L480.50,166.39 L480.58,166.56 L480.65,166.74 L480.72,166.91 L480.79,167.08 L480.86,167.24 L480.93,167.41 L481.01,167.58 L481.08,167.75 L481.15,167.91 L481.22,168.08 L481.29,168.24 L481.36,168.40 L481.44,168.56 L481.51,168.72 L481.58,168.88 L481.65,169.04 L481.72,169.20 L481.79,169.36 L481.87,169.51 L481.94,169.67 L482.01,169.83 L482.08,169.98 L482.15,170.13 L482.22,170.29 L482.30,170.44 L482.37,170.59 L482.44,170.74 L482.51,170.89 L482.58,171.04 L482.65,171.19 L482.73,171.33 L482.80,171.48 L482.87,171.62 L482.94,171.77 L483.01,171.91 L483.08,172.06 L483.16,172.20 L483.23,172.34 L483.30,172.48 L483.37,172.62 L483.44,172.77 L483.51,172.90 L483.59,173.04 L483.66,173.18 L483.73,173.32 L483.80,173.46 L483.87,173.59 L483.94,173.73 L484.02,173.86 L484.09,174.00 L484.16,174.13 L484.23,174.26 L484.30,174.39 L484.37,174.53 L484.45,174.66 L484.52,174.79 L484.59,174.92 L484.66,175.05 L484.73,175.18 L484.80,175.30 L484.88,175.43 L484.95,175.56 L485.02,175.68 L485.09,175.81 L485.16,175.93 L485.23,176.06 L485.31,176.18 L485.38,176.31 L485.45,176.43 L485.52,176.55 L485.59,176.67 L485.66,176.79 L485.74,176.91 L485.81,177.03 L485.88,177.15 L485.95,177.27 L486.02,177.39 L486.09,177.51 L486.17,177.63 L486.24,177.74 L486.31,177.86 L486.38,177.98 L486.45,178.09 L486.52,178.21 L486.60,178.32 L486.67,178.44 L486.74,178.55 L486.81,178.66 L486.88,178.77 L486.95,178.89 L487.03,179.00 L487.10,179.11 L487.17,179.22 L487.24,179.33 L487.31,179.44 L487.38,179.55 L487.45,179.66 L487.53,179.76 L487.60,179.87 L487.67,179.98 L487.74,180.09 L487.81,180.19 L487.88,180.30 L487.96,180.40 L488.03,180.51 L488.10,180.61 L488.17,180.72 L488.24,180.82 L488.31,180.93 L488.39,181.03 L488.46,181.13 L488.53,181.23 L488.60,181.34 L488.67,181.44 L488.74,181.54 L488.82,181.64 L488.89,181.74 L488.96,181.84 L489.03,181.94 L489.10,182.04 L489.17,182.14 L489.25,182.23 L489.32,182.33 L489.39,182.43 L489.46,182.53 L489.53,182.62 L489.60,182.72 L489.68,182.81 L489.75,182.91 L489.82,183.00 L489.89,183.10 L489.96,183.19 L490.03,183.29 L490.11,183.38 L490.18,183.47 L490.25,183.57 L490.32,183.66 L490.39,183.75 L490.46,183.84 L490.54,183.94 L490.61,184.03 L490.68,184.12 L490.75,184.21 L490.82,184.30 L490.89,184.39 L490.97,184.48 L491.04,184.57 L491.11,184.66 L491.18,184.74 L491.25,184.83 L491.32,184.92 L491.40,185.01 L491.47,185.09 L491.54,185.18 L491.61,185.27 L491.68,185.35 L491.75,185.44 L491.83,185.53 L491.90,185.61 L491.97,185.70 L492.04,185.78 L492.11,185.87 L492.18,185.95 L492.26,186.03 L492.33,186.12 L492.40,186.20 L492.47,186.28 L492.54,186.36 L492.61,186.45 L492.69,186.53 L492.76,186.61 L492.83,186.69 L492.90,186.77 L492.97,186.85 L493.04,186.93 L493.12,187.01 L493.19,187.09 L493.26,187.17 L493.33,187.25 L493.40,187.33 L493.47,187.41 L493.55,187.49 L493.62,187.57 L493.69,187.65 L493.76,187.72 L493.83,187.80 L493.90,187.88 L493.98,187.96 L494.05,188.03 L494.12,188.11 L494.19,188.19 L494.26,188.26 L494.33,188.34 L494.41,188.41 L494.48,188.49 L494.55,188.56 L494.62,188.64 L494.69,188.71 L494.76,188.79 L494.84,188.86 L494.91,188.93 L494.98,189.01 L495.05,189.08 L495.12,189.15 L495.19,189.23 L495.27,189.30 L495.34,189.37 L495.41,189.44 L495.48,189.51 L495.55,189.59 L495.62,189.66 L495.70,189.73 L495.77,189.80 L495.84,189.87 L495.91,189.94 L495.98,190.01 L496.05,190.08 L496.13,190.15 L496.20,190.22 L496.27,190.29 L496.34,190.36 L496.41,190.43 L496.48,190.49 L496.56,190.56 L496.63,190.63 L496.70,190.70 L496.77,190.77 L496.84,190.83 L496.91,190.90 L496.99,190.97 L497.06,191.03 L497.13,191.10 L497.20,191.17 L497.27,191.23 L497.34,191.30 L497.42,191.37 L497.49,191.43 L497.56,191.50 L498.84,192.63 L500.12,193.71 L501.41,194.73 L502.69,195.70 L503.97,196.63 L505.25,197.51 L506.53,198.35 L507.82,199.16 L509.10,199.93 L510.38,200.66 L511.66,201.37 L512.94,202.05 L514.23,202.70 L515.51,203.33 L516.79,203.94 L518.07,204.52 L519.35,205.08 L520.64,205.62 L521.92,206.15 L523.20,206.65 L524.48,207.14 L525.76,207.61 L527.05,208.07 L528.33,208.52 L529.61,208.95 L530.89,209.36 L532.17,209.77 L533.46,210.16 L534.74,210.54 L536.02,210.92 L537.30,211.28 L538.58,211.63 L539.87,211.97 L541.15,212.30 L542.43,212.63 L543.71,212.95 L544.99,213.25 L546.28,213.55 L547.56,213.85 L548.84,214.13 L550.12,214.41 L551.40,214.69 L552.69,214.95 L553.97,215.22 L555.25,215.47 L556.53,215.72 L557.81,215.96 L559.10,216.20 L560.38,216.44 L561.66,216.66 L562.94,216.89 L564.22,217.11 L565.51,217.32 L566.79,217.53 L568.07,217.74 L569.35,217.94 L570.63,218.14 L571.92,218.33 L573.20,218.53 L574.48,218.71 L575.76,218.90 L577.04,219.08 L578.33,219.25 L579.61,219.43 L580.89,219.60 L582.17,219.77 L583.45,219.93 L584.74,220.10 L586.02,220.25 L587.30,220.41 L588.58,220.57 L589.86,220.72 L591.15,220.87 L592.43,221.01 L593.71,221.16 L594.99,221.30 L596.27,221.44 L597.56,221.58 L598.84,221.71 L600.12,221.85 L601.40,221.98 L602.68,222.11 L603.97,222.24 L605.25,222.36 L606.53,222.49 L607.81,222.61 L609.09,222.73 L610.38,222.85 L611.66,222.96 L612.94,223.08 L614.22,223.19 L615.51,223.31 L616.79,223.42 L618.07,223.53 L619.35,223.63 L620.63,223.74 L621.92,223.84 L623.20,223.95 L624.48,224.05 L625.76,224.15 L627.04,224.25 L628.33,224.35 L629.61,224.45 L630.89,224.54 L632.17,224.64 L633.45,224.73 L634.74,224.82 L636.02,224.91 L637.30,225.00 L638.58,225.09 L639.86,225.18 L641.15,225.27 L642.43,225.35 L643.71,225.44 L644.99,225.52 L646.27,225.60 L647.56,225.69 L648.84,225.77 L650.12,225.85 L651.40,225.93 L652.68,226.00 L653.97,226.08 L655.25,226.16 L656.53,226.23 L657.81,226.31 L659.09,226.38 L660.38,226.46 L661.66,226.53 L662.94,226.60 L664.22,226.67 L665.50,226.74 L666.79,226.81 L668.07,226.88 L669.35,226.95 L670.63,227.02 L671.91,227.08 L673.20,227.15 L674.48,227.21 L675.76,227.28 L677.04,227.34 L678.32,227.41 L679.61,227.47 L680.89,227.53 L682.17,227.59 L683.45,227.65 L684.73,227.72 L686.02,227.78 L687.30,227.83 L688.58,227.89 L689.86,227.95 L691.14,228.01 L692.43,228.07 L693.71,228.12 L694.99,228.18 L696.27,228.23 L697.55,228.29 L698.84,228.34 L700.12,228.40 L701.40,228.45 L702.68,228.51 L703.96,228.56 L705.25,228.61 L706.53,228.66 L707.81,228.71 L709.09,228.76 L710.37,228.82 L711.66,228.87 L712.94,228.91 L714.22,228.96 L715.50,229.01 L716.78,229.06 L718.07,229.11 L719.35,229.16 L720.63,229.20 L721.91,229.25 L723.19,229.30 L724.48,229.34 L725.76,229.39 L727.04,229.43 L728.32,229.48 L729.61,229.52 L730.89,229.57 L732.17,229.61 L733.45,229.66 L734.73,229.70 L736.02,229.74 L737.30,229.78 L738.58,229.83 L739.86,229.87 L741.14,229.91 L742.43,229.95 L743.71,229.99 L744.99,230.03 L746.27,230.07 L747.55,230.11 L748.84,230.15 L750.12,230.19 L751.40,230.23 L752.68,230.27 L753.96,230.31 L755.25,230.35 L756.53,230.38 L757.81,230.42 L759.09,230.46 L760.37,230.50 L761.66,230.53 L762.94,230.57 L764.22,230.61 L765.50,230.64 L766.78,230.68 L768.07,230.71 L769.35,230.75 L770.63,230.78 L771.91,230.82 L773.19,230.85 L774.48,230.89 L775.76,230.92 L777.04,230.96 L778.32,230.99 L779.60,231.02 L780.89,231.06 L782.17,231.09 L783.45,231.12 L784.73,231.16 L786.01,231.19 L787.30,231.22 L788.58,231.25 L789.86,231.28 L791.14,231.32 L792.42,231.35 L793.71,231.38 L794.99,231.41 L796.27,231.44 L797.55,231.47 L798.83,231.50 L800.12,231.53 L801.40,231.56 L802.68,231.59 L803.96,231.62 L805.24,231.65 L806.53,231.68 L807.81,231.71 L809.09,231.74 L810.37,231.77 L811.65,231.79 L812.94,231.82 L814.22,231.85 L815.50,231.88 L816.78,231.91" fill="none" stroke="#0000ff" stroke-width="2.0"/><path clip-path="url(#cb)" d="M461.80,-153.48 L461.87,-146.79 L461.94,-140.37 L462.02,-134.20 L462.09,-128.26 L462.16,-122.55 L462.23,-117.04 L462.30,-111.73 L462.37,-106.61 L462.45,-101.66 L462.52,-96.88 L462.59,-92.26 L462.66,-87.78 L462.73,-83.45 L462.80,-79.25 L462.88,-75.18 L462.95,-71.23 L463.02,-67.40 L463.09,-63.68 L463.16,-60.07 L463.23,-56.56 L463.31,-53.14 L463.38,-49.82 L463.45,-46.59 L463.52,-43.44 L463.59,-40.37 L463.66,-37.38 L463.74,-34.47 L463.81,-31.63 L463.88,-28.86 L463.95,-26.15 L464.02,-23.51 L464.09,-20.93 L464.17,-18.41 L464.24,-15.95 L464.31,-13.55 L464.38,-11.19 L464.45,-8.89 L464.52,-6.64 L464.60,-4.44 L464.67,-2.28 L464.74,-0.17 L464.81,1.90 L464.88,3.92 L464.95,5.91 L465.03,7.86 L465.10,9.76 L465.17,11.63 L465.24,13.47 L465.31,15.27 L465.38,17.03 L465.46,18.77 L465.53,20.47 L465.60,22.14 L465.67,23.78 L465.74,25.39 L465.81,26.97 L465.89,28.53 L465.96,30.06 L466.03,31.56 L466.10,33.03 L466.17,34.49 L466.24,35.91 L466.32,37.32 L466.39,38.70 L466.46,40.06 L466.53,41.40 L466.60,42.71 L466.67,44.01 L466.75,45.28 L466.82,46.54 L466.89,47.78 L466.96,49.00 L467.03,50.20 L467.10,51.38 L467.18,52.54 L467.25,53.69 L467.32,54.82 L467.39,55.94 L467.46,57.03 L467.53,58.12 L467.61,59.19 L467.68,60.24 L467.75,61.28 L467.82,62.30 L467.89,63.31 L467.96,64.31 L468.04,65.30 L468.11,66.27 L468.18,67.22 L468.25,68.17 L468.32,69.10 L468.39,70.02 L468.47,70.93 L468.54,71.83 L468.61,72.72 L468.68,73.60 L468.75,74.46 L468.82,75.31 L468.90,76.16 L468.97,76.99 L469.04,77.82 L469.11,78.63 L469.18,79.43 L469.25,80.23 L469.33,81.01 L469.40,81.79 L469.47,82.56 L469.54,83.32 L469.61,84.07 L469.68,84.81 L469.75,85.54 L469.83,86.27 L469.90,86.98 L469.97,87.69 L470.04,88.39 L470.11,89.09 L470.18,89.77 L470.26,90.45 L470.33,91.12 L470.40,91.79 L470.47,92.44 L470.54,93.09 L470.61,93.74 L470.69,94.38 L470.76,95.01 L470.83,95.63 L470.90,96.25 L470.97,96.86 L471.04,97.46 L471.12,98.06 L471.19,98.66 L471.26,99.24 L471.33,99.83 L471.40,100.40 L471.47,100.97 L471.55,101.54 L471.62,102.10 L471.69,102.65 L471.76,103.20 L471.83,103.74 L471.90,104.28 L471.98,104.82 L472.05,105.35 L472.12,105.87 L472.19,106.39 L472.26,106.90 L472.33,107.41 L472.41,107.92 L472.48,108.42 L472.55,108.91 L472.62,109.40 L472.69,109.89 L472.76,110.38 L472.84,110.85 L472.91,111.33 L472.98,111.80 L473.05,112.27 L473.12,112.73 L473.19,113.19 L473.27,113.64 L473.34,114.09 L473.41,114.54 L473.48,114.98 L473.55,115.42 L473.62,115.86 L473.70,116.29 L473.77,116.72 L473.84,117.14 L473.91,117.56 L473.98,117.98 L474.05,118.40 L474.13,118.81 L474.20,119.22 L474.27,119.62 L474.34,120.02 L474.41,120.42 L474.48,120.82 L474.56,121.21 L474.63,121.60 L474.70,121.99 L474.77,122.37 L474.84,122.75 L474.91,123.13 L474.99,123.50 L475.06,123.88 L475.13,124.25 L475.20,124.61 L475.27,124.98 L475.34,125.34 L475.42,125.70 L475.49,126.05 L475.56,126.40 L475.63,126.75 L475.70,127.10 L475.77,127.45 L475.85,127.79 L475.92,128.13 L475.99,128.47 L476.06,128.81 L476.13,129.14 L476.20,129.47 L476.28,129.80 L476.35,130.12 L476.42,130.45 L476.49,130.77 L476.56,131.09 L476.63,131.41 L476.71,131.72 L476.78,132.04 L476.85,132.35 L476.92,132.66 L476.99,132.96 L477.06,133.27 L477.14,133.57 L477.21,133.87 L477.28,134.17 L477.35,134.47 L477.42,134.76 L477.49,135.05 L477.57,135.34 L477.64,135.63 L477.71,135.92 L477.78,136.20 L477.85,136.49 L477.92,136.77 L478.00,137.05 L478.07,137.33 L478.14,137.60 L478.21,137.88 L478.28,138.15 L478.35,138.42 L478.43,138.69 L478.50,138.96 L478.57,139.22 L478.64,139.49 L478.71,139.75 L478.78,140.01 L478.86,140.27 L478.93,140.53 L479.00,140.79 L479.07,141.04 L479.14,141.30 L479.21,141.55 L479.29,141.80 L479.36,142.05 L479.43,142.29 L479.50,142.54 L479.57,142.78 L479.64,143.03 L479.72,143.27 L479.79,143.51 L479.86,143.75 L479.93,143.98 L480.00,144.22 L480.07,144.45 L480.15,144.69 L480.22,144.92 L480.29,145.15 L480.36,145.38 L480.43,145.61 L480.50,145.83 L480.58,146.06 L480.65,146.28 L480.72,146.51 L480.79,146.73 L480.86,146.95 L480.93,147.17 L481.01,147.39 L481.08,147.60 L481.15,147.82 L481.22,148.03 L481.29,148.25 L481.36,148.46 L481.44,148.67 L481.51,148.88 L481.58,149.09 L481.65,149.29 L481.72,149.50 L481.79,149.71 L481.87,149.91 L481.94,150.11 L482.01,150.32 L482.08,150.52 L482.15,150.72 L482.22,150.92 L482.30,151.11 L482.37,151.31 L482.44,151.51 L482.51,151.70 L482.58,151.90 L482.65,152.09 L482.73,152.28 L482.80,152.47 L482.87,152.66 L482.94,152.85 L483.01,153.04 L483.08,153.22 L483.16,153.41 L483.23,153.60 L483.30,153.78 L483.37,153.96 L483.44,154.15 L483.51,154.33 L483.59,154.51 L483.66,154.69 L483.73,154.87 L483.80,155.04 L483.87,155.22 L483.94,155.40 L484.02,155.57 L484.09,155.75 L484.16,155.92 L484.23,156.09 L484.30,156.27 L484.37,156.44 L484.45,156.61 L484.52,156.78 L484.59,156.95 L484.66,157.11 L484.73,157.28 L484.80,157.45 L484.88,157.61 L484.95,157.78 L485.02,157.94 L485.09,158.10 L485.16,158.27 L485.23,158.43 L485.31,158.59 L485.38,158.75 L485.45,158.91 L485.52,159.07 L485.59,159.23 L485.66,159.38 L485.74,159.54 L485.81,159.70 L485.88,159.85 L485.95,160.01 L486.02,160.16 L486.09,160.31 L486.17,160.47 L486.24,160.62 L486.31,160.77 L486.38,160.92 L486.45,161.07 L486.52,161.22 L486.60,161.37 L486.67,161.51 L486.74,161.66 L486.81,161.81 L486.88,161.95 L486.95,162.10 L487.03,162.24 L487.10,162.39 L487.17,162.53 L487.24,162.67 L487.31,162.81 L487.38,162.96 L487.45,163.10 L487.53,163.24 L487.60,163.38 L487.67,163.52 L487.74,163.65 L487.81,163.79 L487.88,163.93 L487.96,164.07 L488.03,164.20 L488.10,164.34 L488.17,164.47 L488.24,164.61 L488.31,164.74 L488.39,164.88 L488.46,165.01 L488.53,165.14 L488.60,165.27 L488.67,165.40 L488.74,165.53 L488.82,165.66 L488.89,165.79 L488.96,165.92 L489.03,166.05 L489.10,166.18 L489.17,166.31 L489.25,166.43 L489.32,166.56 L489.39,166.69 L489.46,166.81 L489.53,166.94 L489.60,167.06 L489.68,167.19 L489.75,167.31 L489.82,167.43 L489.89,167.55 L489.96,167.68 L490.03,167.80 L490.11,167.92 L490.18,168.04 L490.25,168.16 L490.32,168.28 L490.39,168.40 L490.46,168.52 L490.54,168.64 L490.61,168.75 L490.68,168.87 L490.75,168.99 L490.82,169.10 L490.89,169.22 L490.97,169.34 L491.04,169.45 L491.11,169.57 L491.18,169.68 L491.25,169.79 L491.32,169.91 L491.40,170.02 L491.47,170.13 L491.54,170.25 L491.61,170.36 L491.68,170.47 L491.75,170.58 L491.83,170.69 L491.90,170.80 L491.97,170.91 L492.04,171.02 L492.11,171.13 L492.18,171.24 L492.26,171.34 L492.33,171.45 L492.40,171.56 L492.47,171.67 L492.54,171.77 L492.61,171.88 L492.69,171.98 L492.76,172.09 L492.83,172.19 L492.90,172.30 L492.97,172.40 L493.04,172.51 L493.12,172.61 L493.19,172.71 L493.26,172.82 L493.33,172.92 L493.40,173.02 L493.47,173.12 L493.55,173.22 L493.62,173.33 L493.69,173.43 L493.76,173.53 L493.83,173.63 L493.90,173.73 L493.98,173.82 L494.05,173.92 L494.12,174.02 L494.19,174.12 L494.26,174.22 L494.33,174.32 L494.41,174.41 L494.48,174.51 L494.55,174.61 L494.62,174.70 L494.69,174.80 L494.76,174.89 L494.84,174.99 L494.91,175.08 L494.98,175.18 L495.05,175.27 L495.12,175.37 L495.19,175.46 L495.27,175.55 L495.34,175.65 L495.41,175.74 L495.48,175.83 L495.55,175.92 L495.62,176.02 L495.70,176.11 L495.77,176.20 L495.84,176.29 L495.91,176.38 L495.98,176.47 L496.05,176.56 L496.13,176.65 L496.20,176.74 L496.27,176.83 L496.34,176.92 L496.41,177.00 L496.48,177.09 L496.56,177.18 L496.63,177.27 L496.70,177.36 L496.77,177.44 L496.84,177.53 L496.91,177.62 L496.99,177.70 L497.06,177.79 L497.13,177.87 L497.20,177.96 L497.27,178.04 L497.34,178.13 L497.42,178.21 L497.49,178.30 L497.56,178.38 L498.84,179.84 L500.12,181.22 L501.41,182.54 L502.69,183.78 L503.97,184.97 L505.25,186.09 L506.53,187.17 L507.82,188.20 L509.10,189.18 L510.38,190.12 L511.66,191.03 L512.94,191.89 L514.23,192.72 L515.51,193.52 L516.79,194.29 L518.07,195.03 L519.35,195.75 L520.64,196.44 L521.92,197.10 L523.20,197.74 L524.48,198.36 L525.76,198.96 L527.05,199.54 L528.33,200.11 L529.61,200.65 L530.89,201.18 L532.17,201.69 L533.46,202.19 L534.74,202.67 L536.02,203.14 L537.30,203.60 L538.58,204.04 L539.87,204.48 L541.15,204.90 L542.43,205.31 L543.71,205.70 L544.99,206.09 L546.28,206.47 L547.56,206.84 L548.84,207.20 L550.12,207.55 L551.40,207.90 L552.69,208.23 L553.97,208.56 L555.25,208.88 L556.53,209.19 L557.81,209.50 L559.10,209.80 L560.38,210.09 L561.66,210.38 L562.94,210.66 L564.22,210.94 L565.51,211.21 L566.79,211.47 L568.07,211.73 L569.35,211.98 L570.63,212.23 L571.92,212.47 L573.20,212.71 L574.48,212.95 L575.76,213.18 L577.04,213.40 L578.33,213.63 L579.61,213.84 L580.89,214.06 L582.17,214.27 L583.45,214.47 L584.74,214.68 L586.02,214.87 L587.30,215.07 L588.58,215.26 L589.86,215.45 L591.15,215.64 L592.43,215.82 L593.71,216.00 L594.99,216.18 L596.27,216.35 L597.56,216.53 L598.84,216.69 L600.12,216.86 L601.40,217.02 L602.68,217.19 L603.97,217.34 L605.25,217.50 L606.53,217.66 L607.81,217.81 L609.09,217.96 L610.38,218.10 L611.66,218.25 L612.94,218.39 L614.22,218.54 L615.51,218.67 L616.79,218.81 L618.07,218.95 L619.35,219.08 L620.63,219.21 L621.92,219.34 L623.20,219.47 L624.48,219.60 L625.76,219.72 L627.04,219.85 L628.33,219.97 L629.61,220.09 L630.89,220.21 L632.17,220.33 L633.45,220.44 L634.74,220.56 L636.02,220.67 L637.30,220.78 L638.58,220.89 L639.86,221.00 L641.15,221.11 L642.43,221.21 L643.71,221.32 L644.99,221.42 L646.27,221.52 L647.56,221.63 L648.84,221.73 L650.12,221.82 L651.40,221.92 L652.68,222.02 L653.97,222.11 L655.25,222.21 L656.53,222.30 L657.81,222.40 L659.09,222.49 L660.38,222.58 L661.66,222.67 L662.94,222.76 L664.22,222.84 L665.50,222.93 L666.79,223.02 L668.07,223.10 L669.35,223.19 L670.63,223.27 L671.91,223.35 L673.20,223.43 L674.48,223.51 L675.76,223.59 L677.04,223.67 L678.32,223.75 L679.61,223.83 L680.89,223.90 L682.17,223.98 L683.45,224.06 L684.73,224.13 L686.02,224.20 L687.30,224.28 L688.58,224.35 L689.86,224.42 L691.14,224.49 L692.43,224.56 L693.71,224.63 L694.99,224.70 L696.27,224.77 L697.55,224.84 L698.84,224.91 L700.12,224.97 L701.40,225.04 L702.68,225.10 L703.96,225.17 L705.25,225.23 L706.53,225.30 L707.81,225.36 L709.09,225.42 L710.37,225.48 L711.66,225.55 L712.94,225.61 L714.22,225.67 L715.50,225.73 L716.78,225.79 L718.07,225.85 L719.35,225.90 L720.63,225.96 L721.91,226.02 L723.19,226.08 L724.48,226.13 L725.76,226.19 L727.04,226.24 L728.32,226.30 L729.61,226.35 L730.89,226.41 L732.17,226.46 L733.45,226.52 L734.73,226.57 L736.02,226.62 L737.30,226.67 L738.58,226.72 L739.86,226.78 L741.14,226.83 L742.43,226.88 L743.71,226.93 L744.99,226.98 L746.27,227.03 L747.55,227.08 L748.84,227.12 L750.12,227.17 L751.40,227.22 L752.68,227.27 L753.96,227.32 L755.25,227.36 L756.53,227.41 L757.81,227.45 L759.09,227.50 L760.37,227.55 L761.66,227.59 L762.94,227.64 L764.22,227.68 L765.50,227.72 L766.78,227.77 L768.07,227.81 L769.35,227.86 L770.63,227.90 L771.91,227.94 L773.19,227.98 L774.48,228.03 L775.76,228.07 L777.04,228.11 L778.32,228.15 L779.60,228.19 L780.89,228.23 L782.17,228.27 L783.45,228.31 L784.73,228.35 L786.01,228.39 L787.30,228.43 L788.58,228.47 L789.86,228.51 L791.14,228.55 L792.42,228.59 L793.71,228.62 L794.99,228.66 L796.27,228.70 L797.55,228.74 L798.83,228.77 L800.12,228.81 L801.40,228.85 L802.68,228.88 L803.96,228.92 L805.24,228.95 L806.53,228.99 L807.81,229.03 L809.09,229.06 L810.37,229.10 L811.65,229.13 L812.94,229.17 L814.22,229.20 L815.50,229.23 L816.78,229.27" fill="none" stroke="#ff0000" stroke-width="2.0" stroke-dasharray="4.75 1.9"/><g fill="#000" font-family="Liberation Sans, sans-serif"><text x="103.4" y="45.0" text-anchor="middle" font-size="16.5" >100</text><text x="523.6" y="166.3" text-anchor="middle" font-size="16.5" >100</text><text x="172.2" y="45.0" text-anchor="middle" font-size="16.5" >200</text><text x="588.6" y="166.3" text-anchor="middle" font-size="16.5" >200</text><text x="240.9" y="45.0" text-anchor="middle" font-size="16.5" >300</text><text x="653.6" y="166.3" text-anchor="middle" font-size="16.5" >300</text><text x="309.7" y="45.0" text-anchor="middle" font-size="16.5" >400</text><text x="718.6" y="166.3" text-anchor="middle" font-size="16.5" >400</text><text x="378.4" y="45.0" text-anchor="middle" font-size="16.5" >500</text><text x="783.6" y="166.3" text-anchor="middle" font-size="16.5" >500</text><text x="33.5" y="53.6" text-anchor="end" font-size="16.8" >−4.7</text><text x="33.5" y="81.9" text-anchor="end" font-size="16.8" >−4.8</text><text x="33.5" y="110.2" text-anchor="end" font-size="16.8" >−4.9</text><text x="33.5" y="138.5" text-anchor="end" font-size="16.8" >−5.0</text><text x="33.5" y="166.8" text-anchor="end" font-size="16.8" >−5.1</text><text x="33.5" y="195.1" text-anchor="end" font-size="16.8" >−5.2</text><text x="33.5" y="223.4" text-anchor="end" font-size="16.8" >−5.3</text><text x="455.5" y="50.9" text-anchor="end" font-size="16.8" >0.4</text><text x="455.5" y="102.6" text-anchor="end" font-size="16.8" >0.2</text><text x="455.5" y="154.3" text-anchor="end" font-size="16.8" >0.0</text><text x="455.5" y="206.0" text-anchor="end" font-size="16.8" >−0.2</text><text x="394.4" y="33.7" text-anchor="start" font-size="21" font-style="italic">j</text><text x="824.3" y="154.5" text-anchor="start" font-size="21" font-style="italic">j</text><text x="3.8" y="17.6" font-size="20"><tspan font-style="italic">R</tspan><tspan dy="-6.3" font-size="13.6">(peak 1)</tspan></text><text x="426.9" y="17.6" font-size="20"><tspan font-style="italic">R</tspan><tspan dx="-0.8" dy="-6.4" font-size="13.6">(peak 2)</tspan></text><line x1="283.2" y1="124.7" x2="316.3" y2="124.7" stroke="#0000ff" stroke-width="1.6"/><line x1="283.2" y1="147.5" x2="316.3" y2="147.5" stroke="#ff0000" stroke-width="1.6" stroke-dasharray="4.7 1.95"/><text transform="translate(320.8,127.9) scale(1.25,1.08)" font-size="17" font-style="italic">γ</text><text x="331.2" y="127.9" font-size="17" letter-spacing="0.4">=−0.5</text><text transform="translate(320.8,149.6) scale(1.25,1.08)" font-size="17" font-style="italic">γ</text><text x="331.2" y="149.6" font-size="17" letter-spacing="0.4">=−0.1</text><line x1="713.3" y1="45.1" x2="745.9" y2="45.1" stroke="#0000ff" stroke-width="1.6"/><line x1="713.3" y1="67.6" x2="745.9" y2="67.6" stroke="#ff0000" stroke-width="1.6" stroke-dasharray="4.7 1.95"/><text transform="translate(751.8000000000001,48.300000000000004) scale(1.25,1.08)" font-size="17" font-style="italic">γ</text><text x="762.2" y="48.300000000000004" font-size="17" letter-spacing="0.4">=−0.5</text><text transform="translate(751.8000000000001,69.69999999999999) scale(1.25,1.08)" font-size="17" font-style="italic">γ</text><text x="762.2" y="69.69999999999999" font-size="17" letter-spacing="0.4">=−0.1</text><text x="198.2" y="268.4" text-anchor="middle" font-size="29" font-family="Liberation Serif, serif">(a)</text><text x="628.1" y="268.6" text-anchor="middle" font-size="29" font-family="Liberation Serif, serif">(b)</text></g>
</svg>
</body></html>
